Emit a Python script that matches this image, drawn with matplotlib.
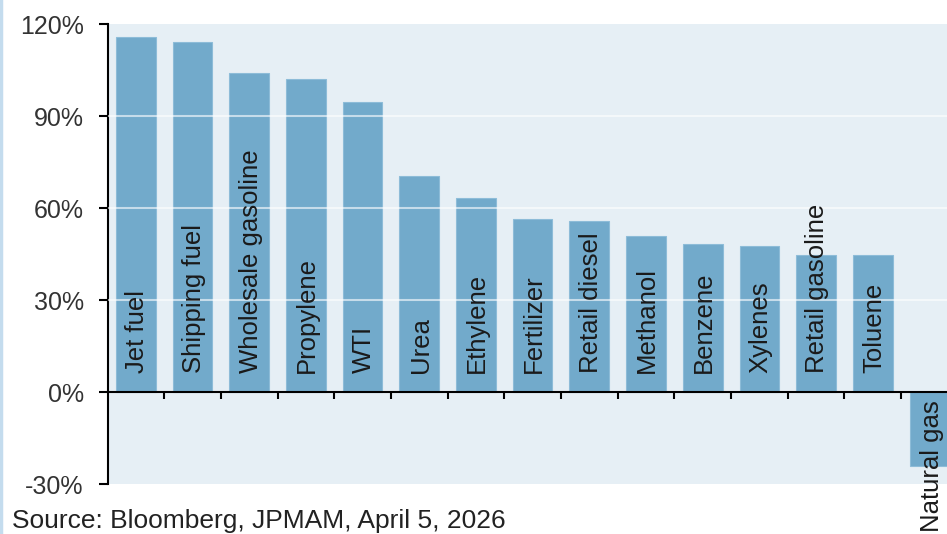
import matplotlib.pyplot as plt
import numpy as np

plt.rcParams['font.family'] = ['Liberation Sans', 'DejaVu Sans']

# data (% change)
products = ['Jet fuel', 'Shipping fuel', 'Wholesale gasoline', 'Propylene', 'WTI',
            'Urea', 'Ethylene', 'Fertilizer', 'Retail diesel', 'Methanol',
            'Benzene', 'Xylenes', 'Retail gasoline', 'Toluene', 'Natural gas']
changes = [115.8, 114.1, 104.0, 102.0, 94.6, 70.4, 63.3, 56.4, 55.8, 50.9,
           48.3, 47.6, 44.7, 44.7, -24.1]
yticks = [-30, 0, 30, 60, 90, 120]

fig = plt.figure(figsize=(9.47, 5.34), dpi=100)
ax = fig.add_axes([108/947, 50/534, 839/947, 460/534])
ax.set_facecolor('#e6eff5')

x = np.arange(len(products))
ax.bar(x, changes, width=0.7, color='#72aacb', edgecolor='#8dbcd8', linewidth=0.8, zorder=2)

# white grid lines, drawn faintly over the bars
for t in yticks[2:-1]:
    ax.axhline(t, color='white', lw=1.5, alpha=0.6, zorder=3)

# category labels inside the bars
for xi, v, name in zip(x, changes, products):
    if v >= 0:
        ax.annotate(name, (xi, 0), xytext=(1, 14), textcoords='offset points',
                    rotation=90, ha='center', va='bottom', fontsize=18.5,
                    color='#1a1a1a', zorder=4, annotation_clip=False)
    else:
        ax.annotate(name, (xi, 0), xytext=(2, -6), textcoords='offset points',
                    rotation=90, ha='center', va='top', fontsize=18.5,
                    color='#1a1a1a', zorder=4, annotation_clip=False)

ax.set_xlim(-0.49, 14.31)
ax.set_ylim(-30, 120)
ax.set_yticks(yticks)
ax.set_yticklabels([f'{t}%' for t in yticks], fontsize=18, color='#333333')
ax.tick_params(axis='y', direction='out', length=6.5, width=1.5, pad=11)

ax.set_xticks(x[:-1] + 0.5)
ax.set_xticklabels([])
ax.tick_params(axis='x', direction='out', length=5, width=1.5)

ax.spines['top'].set_visible(False)
ax.spines['right'].set_visible(False)
ax.spines['left'].set_linewidth(1.5)
ax.spines['bottom'].set_position(('data', 0))
ax.spines['bottom'].set_linewidth(1.5)
ax.spines['bottom'].set_zorder(5)

fig.text(12/947, 6/534, 'Source: Bloomberg, JPMAM, April 5, 2026', fontsize=19,
         color='#222222', ha='left', va='baseline')

# thin light border at the left edge of the image
fig.add_artist(plt.Line2D([1/947, 1/947], [0, 1], color='#c4dcee', lw=2.5,
                          transform=fig.transFigure))

fig.savefig('out.png', dpi=100)
